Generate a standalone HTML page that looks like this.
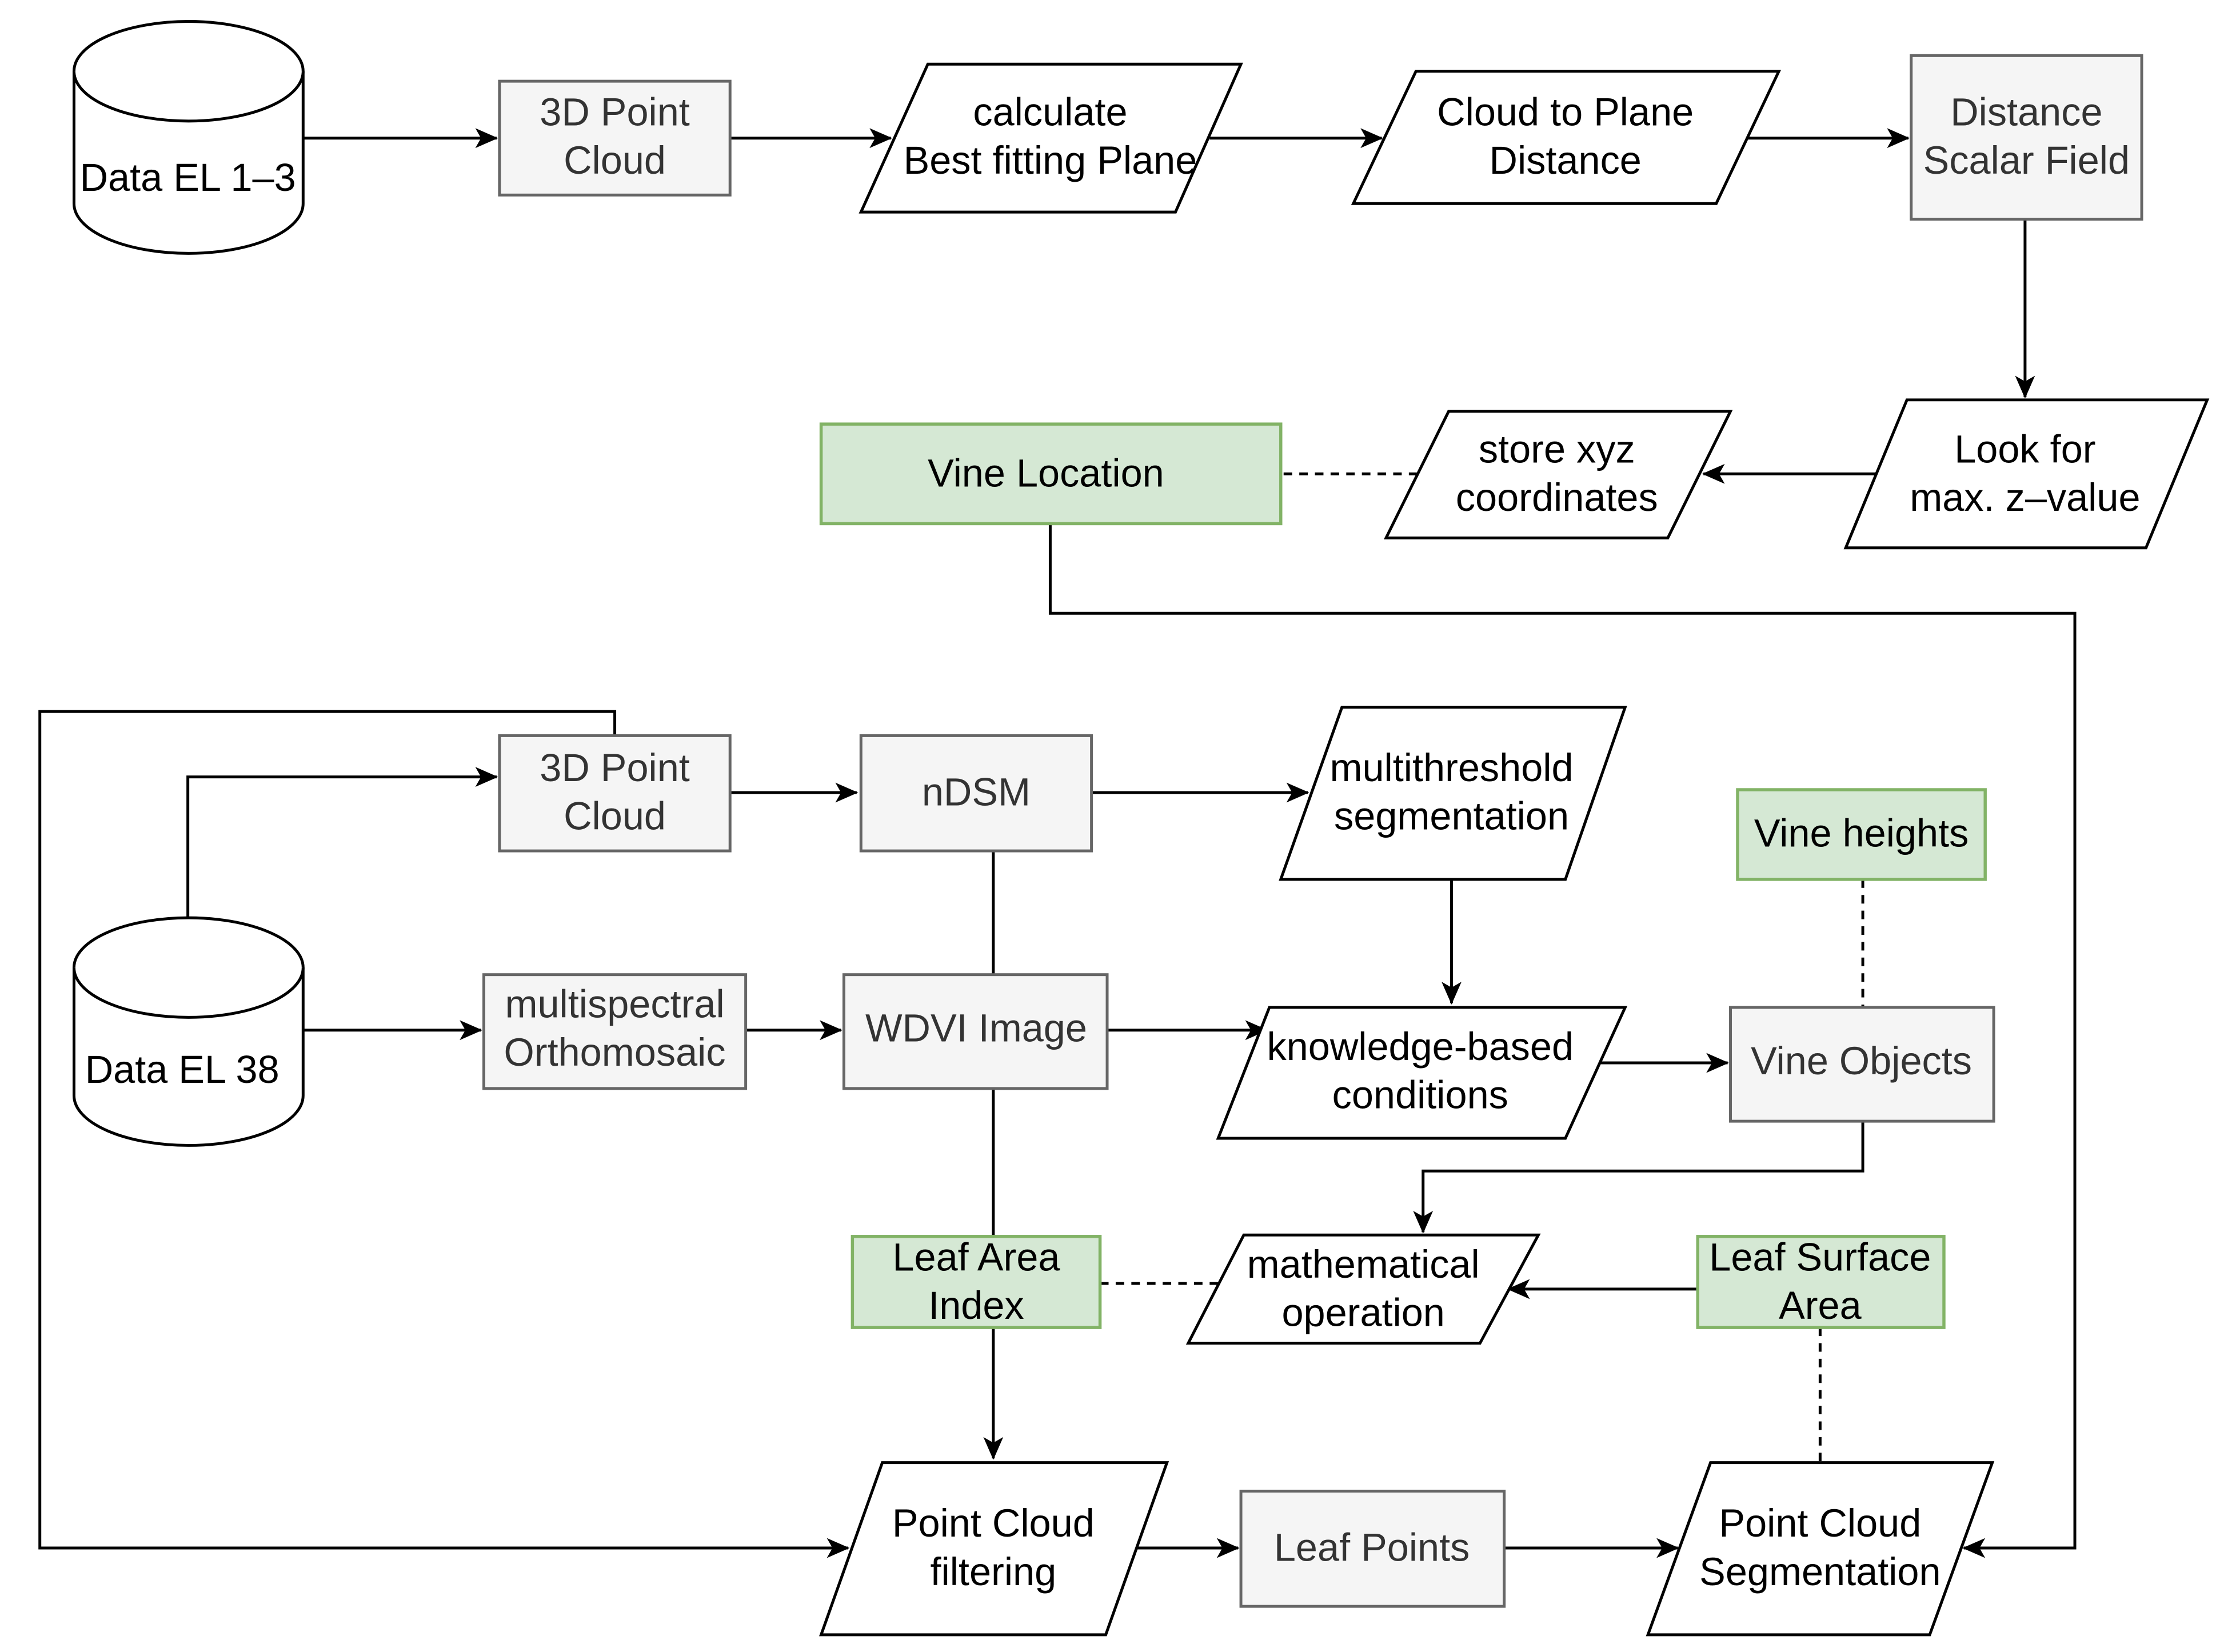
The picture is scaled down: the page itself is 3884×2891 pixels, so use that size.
<!DOCTYPE html>
<html><head><meta charset="utf-8"><style>
html,body{margin:0;padding:0;background:#fff;}
svg{display:block;}
text{font-family:"Liberation Sans",Arial,sans-serif;font-size:27.5px;text-anchor:middle;}
</style></head><body>
<svg width="3884" height="2891" viewBox="0 0 1560 1161" xmlns="http://www.w3.org/2000/svg">
<defs>
<marker id="a" viewBox="0 0 16 14" refX="15" refY="7" markerWidth="16" markerHeight="14" markerUnits="userSpaceOnUse" orient="auto">
<path d="M0,0 L16,7 L0,14 L4,7 Z" fill="#000"/>
</marker>
</defs>
<rect width="1560" height="1161" fill="#fff"/>
<g fill="none" stroke="#000" stroke-width="2">
<line x1="213" y1="97" x2="349" y2="97" marker-end="url(#a)"/>
<line x1="513" y1="97" x2="626" y2="97" marker-end="url(#a)"/>
<line x1="850" y1="97" x2="971" y2="97" marker-end="url(#a)"/>
<line x1="1228" y1="97" x2="1341" y2="97" marker-end="url(#a)"/>
<line x1="1423" y1="154" x2="1423" y2="279" marker-end="url(#a)"/>
<line x1="1318" y1="333" x2="1197" y2="333" marker-end="url(#a)"/>
<line x1="996" y1="333" x2="900" y2="333" stroke-dasharray="6,5"/>
<polyline points="738,368 738,431 1458,431 1458,1088 1380,1088" marker-end="url(#a)"/>
<polyline points="432,517 432,500 28,500 28,1088 596,1088" marker-end="url(#a)"/>
<polyline points="132,645 132,546 349,546" marker-end="url(#a)"/>
<line x1="513" y1="557" x2="602" y2="557" marker-end="url(#a)"/>
<line x1="767" y1="557" x2="919" y2="557" marker-end="url(#a)"/>
<line x1="1020" y1="618" x2="1020" y2="705" marker-end="url(#a)"/>
<line x1="698" y1="598" x2="698" y2="685"/>
<line x1="213" y1="724" x2="338" y2="724" marker-end="url(#a)"/>
<line x1="524" y1="724" x2="591" y2="724" marker-end="url(#a)"/>
<line x1="778" y1="724" x2="890" y2="724" marker-end="url(#a)"/>
<line x1="1122" y1="747" x2="1214" y2="747" marker-end="url(#a)"/>
<line x1="1309" y1="618" x2="1309" y2="708" stroke-dasharray="6,5"/>
<polyline points="1309,788 1309,823 1000,823 1000,866" marker-end="url(#a)"/>
<line x1="1193" y1="906" x2="1060" y2="906" marker-end="url(#a)"/>
<line x1="1279" y1="933" x2="1279" y2="1027" stroke-dasharray="6,5"/>
<line x1="773" y1="902" x2="862" y2="902" stroke-dasharray="6,5"/>
<line x1="698" y1="765" x2="698" y2="869"/>
<line x1="698" y1="933" x2="698" y2="1025" marker-end="url(#a)"/>
<line x1="798" y1="1088" x2="870" y2="1088" marker-end="url(#a)"/>
<line x1="1057" y1="1088" x2="1179" y2="1088" marker-end="url(#a)"/>
</g>
<g fill="#fff" stroke="#000" stroke-width="2">
<path d="M52,50 L52,143 A80.5,35 0 0 0 213,143 L213,50 A80.5,35 0 0 0 52,50 Z"/>
<path d="M52,50 A80.5,35 0 0 0 213,50"/>
<path d="M52,680 L52,770 A80.5,35 0 0 0 213,770 L213,680 A80.5,35 0 0 0 52,680 Z"/>
<path d="M52,680 A80.5,35 0 0 0 213,680"/>
</g>
<g fill="#f5f5f5" stroke="#666" stroke-width="2">
<rect x="351" y="57" width="162" height="80"/>
<rect x="1343" y="39" width="162" height="115"/>
<rect x="351" y="517" width="162" height="81"/>
<rect x="605" y="517" width="162" height="81"/>
<rect x="340" y="685" width="184" height="80"/>
<rect x="593" y="685" width="185" height="80"/>
<rect x="1216" y="708" width="185" height="80"/>
<rect x="872" y="1048" width="185" height="81"/>
</g>
<g fill="#d5e8d4" stroke="#82b366" stroke-width="2.2">
<rect x="577" y="298" width="323" height="70"/>
<rect x="1221" y="555" width="174" height="63"/>
<rect x="599" y="869" width="174" height="64"/>
<rect x="1193" y="869" width="173" height="64"/>
</g>
<g fill="#fff" stroke="#000" stroke-width="2">
<polygon points="652,45 872,45 826,149 605,149"/>
<polygon points="995,50 1250,50 1206,143 951,143"/>
<polygon points="1340,281 1551,281 1508,385 1297,385"/>
<polygon points="1018,289 1216,289 1172,378 974,378"/>
<polygon points="943,497 1142,497 1100,618 900,618"/>
<polygon points="892,708 1142,708 1100,800 856,800"/>
<polygon points="874,868 1081,868 1040,944 835,944"/>
<polygon points="620,1028 820,1028 777,1149 577,1149"/>
<polygon points="1202,1028 1400,1028 1356,1149 1158,1149"/>
</g>
<g fill="#000">
<text x="132" y="134">Data EL 1–3</text>
<text x="128" y="761">Data EL 38</text>
<text x="738" y="88">calculate</text><text x="738" y="122">Best fitting Plane</text>
<text x="1100" y="88">Cloud to Plane</text><text x="1100" y="122">Distance</text>
<text x="1423" y="325">Look for</text><text x="1423" y="359">max. z–value</text>
<text x="1094" y="325">store xyz</text><text x="1094" y="359">coordinates</text>
<text x="735" y="342">Vine Location</text>
<text x="1020" y="549">multithreshold</text><text x="1020" y="583">segmentation</text>
<text x="998" y="745">knowledge-based</text><text x="998" y="779">conditions</text>
<text x="1308" y="595">Vine heights</text>
<text x="958" y="898">mathematical</text><text x="958" y="932">operation</text>
<text x="686" y="893">Leaf Area</text><text x="686" y="927">Index</text>
<text x="1279" y="893">Leaf Surface</text><text x="1279" y="927">Area</text>
<text x="698" y="1080">Point Cloud</text><text x="698" y="1114">filtering</text>
<text x="1279" y="1080">Point Cloud</text><text x="1279" y="1114">Segmentation</text>
</g>
<g fill="#333">
<text x="432" y="88">3D Point</text><text x="432" y="122">Cloud</text>
<text x="1424" y="88">Distance</text><text x="1424" y="122">Scalar Field</text>
<text x="432" y="549">3D Point</text><text x="432" y="583">Cloud</text>
<text x="686" y="566">nDSM</text>
<text x="432" y="715">multispectral</text><text x="432" y="749">Orthomosaic</text>
<text x="686" y="732">WDVI Image</text>
<text x="1308" y="755">Vine Objects</text>
<text x="964" y="1097">Leaf Points</text>
</g>
</svg>
</body></html>
